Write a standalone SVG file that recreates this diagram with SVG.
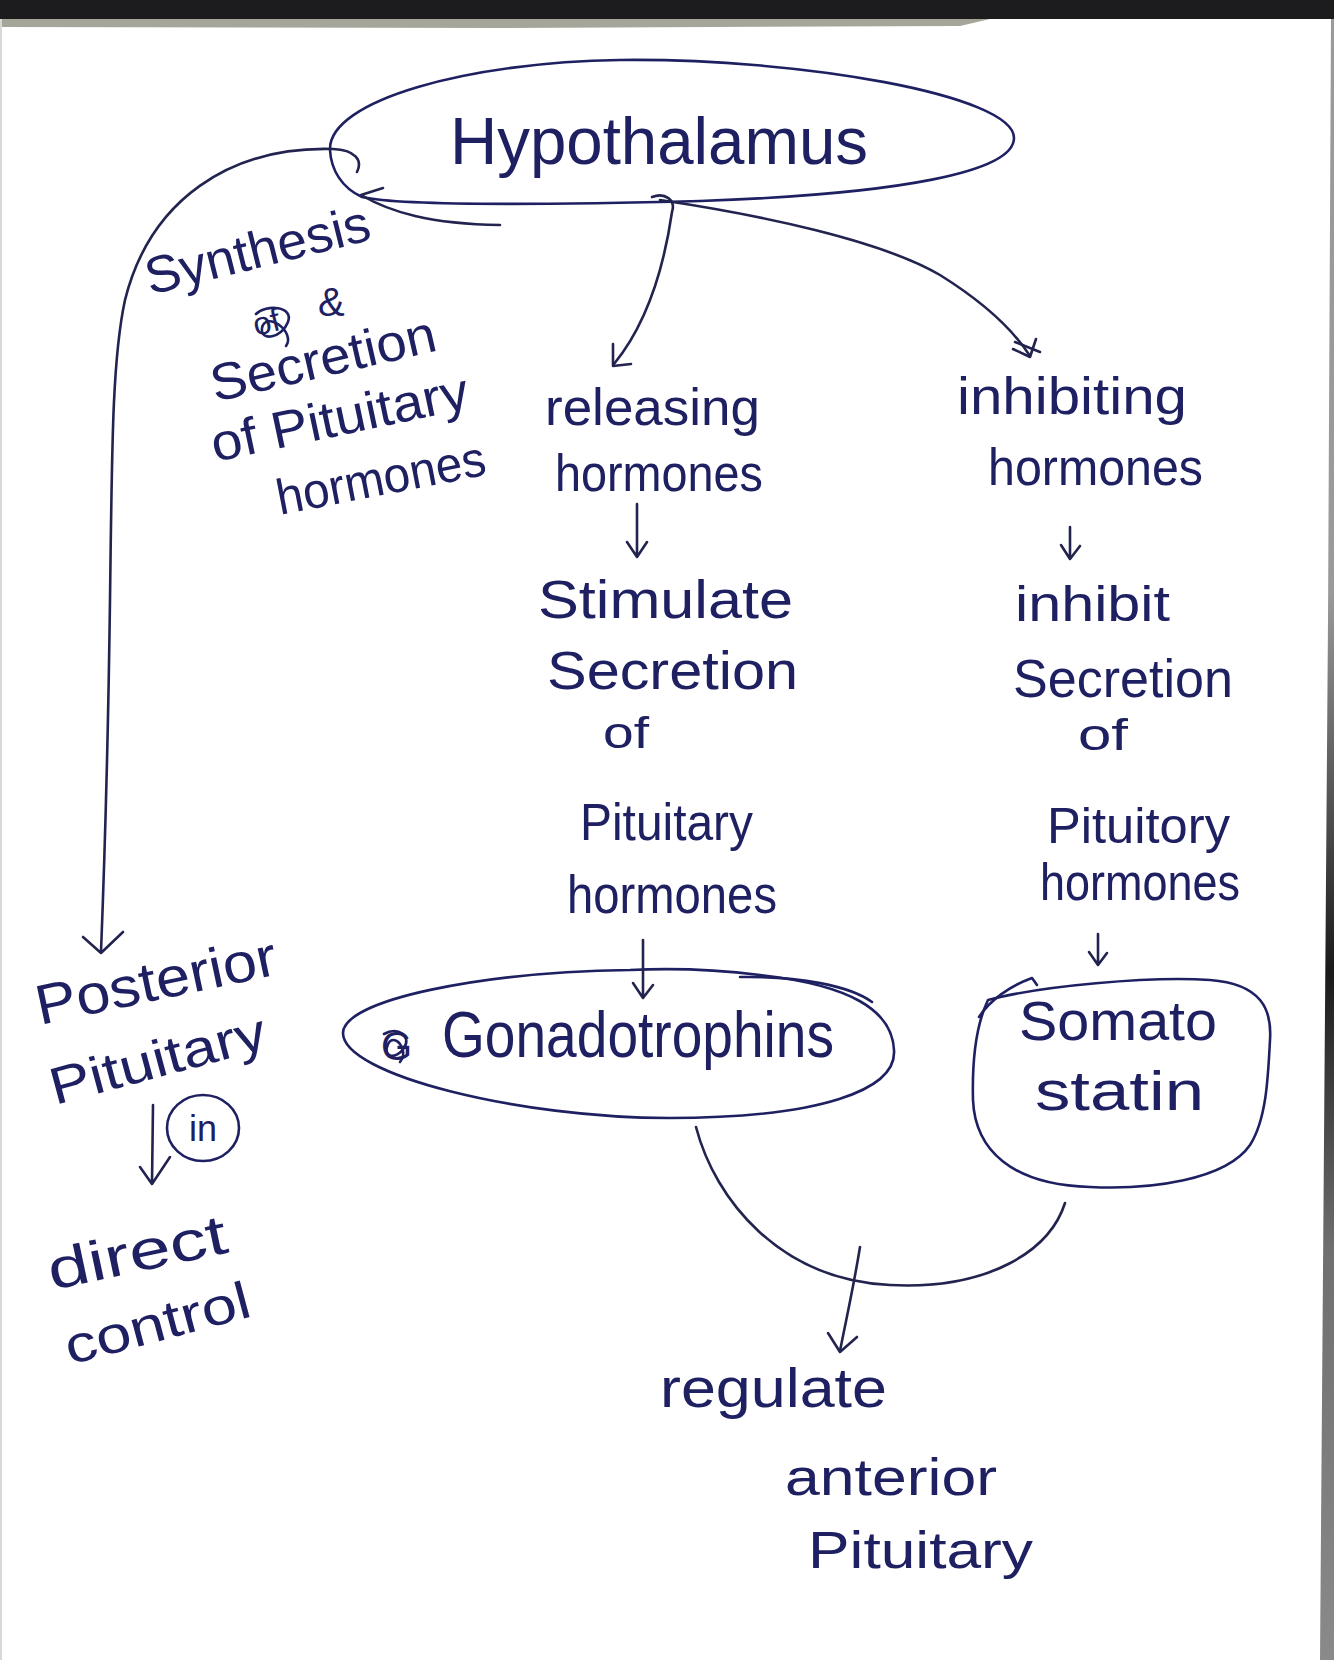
<svg xmlns="http://www.w3.org/2000/svg" width="1334" height="1660" viewBox="0 0 1334 1660">
<defs>
<style>
.t{font-family:"Liberation Sans","DejaVu Sans",sans-serif;fill:#1e2062;}
.ln{fill:none;stroke:#22244f;stroke-width:2.6;stroke-linecap:round;stroke-linejoin:round;}
.ink{fill:none;stroke:#1e2062;stroke-width:2.6;stroke-linecap:round;stroke-linejoin:round;}
</style>
<linearGradient id="edge" x1="0" y1="0" x2="0" y2="1">
<stop offset="0" stop-color="#9a9a9a"/>
<stop offset="0.35" stop-color="#9a9a9a"/>
<stop offset="0.58" stop-color="#1a1a1a"/>
<stop offset="0.75" stop-color="#6f6f6f"/>
<stop offset="1" stop-color="#8a8a8a"/>
</linearGradient>
</defs>
<rect x="0" y="0" width="1334" height="1660" fill="#ffffff"/>
<rect x="0" y="0" width="1334" height="19" fill="#1c1c1e"/>
<path d="M0,19 L990,19 L960,26 L500,28 L0,27 Z" fill="#8e8f7f" opacity="0.8"/>
<path d="M1331,19 L1334,19 L1334,1660 L1320,1660 L1328,620 Z" fill="url(#edge)"/>
<rect x="0" y="19" width="2" height="1641" fill="#d8d8d8"/>

<g id="hypothalamus">
<path class="ink" d="M330,150 C328,100 470,62 620,60 C800,58 1014,95 1014,138 C1014,172 900,194 700,201 C540,205 400,206 362,197 C342,188 331,170 330,150 Z"/>
<text class="t" x="450" y="164" font-size="66" textLength="418" lengthAdjust="spacingAndGlyphs">Hypothalamus</text>
</g>

<g id="synthesis-label">
<text class="t" x="150" y="295" font-size="52" textLength="230" lengthAdjust="spacingAndGlyphs" transform="rotate(-14 150 295)">Synthesis</text>
<text class="t" x="256" y="336" font-size="32" transform="rotate(-14 256 336)">of</text>
<path class="ink" d="M256,314 C266,304 294,306 288,322 C282,338 260,342 262,328 C266,310 296,332 286,346"/>
<text class="t" x="318" y="316" font-size="40">&amp;</text>
<text class="t" x="215" y="402" font-size="52" textLength="230" lengthAdjust="spacingAndGlyphs" transform="rotate(-13 215 402)">Secretion</text>
<text class="t" x="215" y="462" font-size="52" textLength="262" lengthAdjust="spacingAndGlyphs" transform="rotate(-12 215 462)">of Pituitary</text>
<text class="t" x="280" y="515" font-size="50" textLength="212" lengthAdjust="spacingAndGlyphs" transform="rotate(-11 280 515)">hormones</text>
</g>

<g id="releasing">
<text class="t" x="545" y="425" font-size="52" textLength="215" lengthAdjust="spacingAndGlyphs">releasing</text>
<text class="t" x="555" y="491" font-size="52" textLength="208" lengthAdjust="spacingAndGlyphs">hormones</text>
</g>
<g id="stimulate">
<text class="t" x="538" y="618" font-size="54" textLength="255" lengthAdjust="spacingAndGlyphs">Stimulate</text>
<text class="t" x="547" y="689" font-size="54" textLength="251" lengthAdjust="spacingAndGlyphs">Secretion</text>
<text class="t" x="603" y="748" font-size="44" textLength="46" lengthAdjust="spacingAndGlyphs">of</text>
<text class="t" x="580" y="840" font-size="52" textLength="173" lengthAdjust="spacingAndGlyphs">Pituitary</text>
<text class="t" x="567" y="913" font-size="54" textLength="210" lengthAdjust="spacingAndGlyphs">hormones</text>
</g>

<g id="inhibiting">
<text class="t" x="957" y="414" font-size="52" textLength="230" lengthAdjust="spacingAndGlyphs">inhibiting</text>
<text class="t" x="988" y="485" font-size="52" textLength="215" lengthAdjust="spacingAndGlyphs">hormones</text>
</g>
<g id="inhibit">
<text class="t" x="1015" y="621" font-size="50" textLength="155" lengthAdjust="spacingAndGlyphs">inhibit</text>
<text class="t" x="1013" y="697" font-size="54" textLength="220" lengthAdjust="spacingAndGlyphs">Secretion</text>
<text class="t" x="1078" y="750" font-size="44" textLength="50" lengthAdjust="spacingAndGlyphs">of</text>
<text class="t" x="1047" y="843" font-size="50" textLength="183" lengthAdjust="spacingAndGlyphs">Pituitory</text>
<text class="t" x="1040" y="900" font-size="52" textLength="200" lengthAdjust="spacingAndGlyphs">hormones</text>
</g>

<g id="gonadotrophins">
<path class="ink" d="M630,970 C480,972 343,1000 343,1033 C343,1075 520,1118 669,1118 C820,1118 897,1090 894,1050 C892,1010 850,985 760,975 C720,970 670,968 630,970 Z"/>
<path class="ink" d="M740,977 C800,976 850,986 872,1002"/>
<text class="t" x="381" y="1060" font-size="40">G</text>
<path class="ink" d="M384,1034 C398,1026 412,1036 404,1048 C396,1060 382,1058 388,1044 C394,1032 410,1050 400,1062"/>
<text class="t" x="442" y="1057" font-size="64" textLength="392" lengthAdjust="spacingAndGlyphs">Gonadotrophins</text>
</g>

<g id="somatostatin">
<path class="ink" d="M988,1000 C1040,986 1150,976 1210,980 C1262,984 1272,1010 1270,1040 C1268,1080 1266,1120 1250,1145 C1226,1180 1150,1190 1090,1187 C1012,1185 975,1150 973,1100 C972,1060 976,1025 988,1000"/>
<path class="ink" d="M979,1017 C990,1000 1010,986 1032,978 L1037,985"/>
<text class="t" x="1019" y="1040" font-size="56" textLength="198" lengthAdjust="spacingAndGlyphs">Somato</text>
<text class="t" x="1035" y="1110" font-size="56" textLength="169" lengthAdjust="spacingAndGlyphs">statin</text>
</g>

<g id="posterior-pituitary">
<text class="t" x="40" y="1025" font-size="56" textLength="245" lengthAdjust="spacingAndGlyphs" transform="rotate(-12 40 1025)">Posterior</text>
<text class="t" x="55" y="1105" font-size="52" textLength="222" lengthAdjust="spacingAndGlyphs" transform="rotate(-15 55 1105)">Pituitary</text>
</g>
<g id="in-label">
<ellipse class="ink" cx="203" cy="1128" rx="36" ry="33"/>
<text class="t" x="203" y="1141" font-size="36" text-anchor="middle">in</text>
</g>
<g id="direct-control">
<text class="t" x="52" y="1290" font-size="56" textLength="182" lengthAdjust="spacingAndGlyphs" transform="rotate(-12 52 1290)">direct</text>
<text class="t" x="70" y="1365" font-size="52" textLength="190" lengthAdjust="spacingAndGlyphs" transform="rotate(-15 70 1365)">control</text>
</g>

<g id="regulate">
<text class="t" x="660" y="1407" font-size="56" textLength="227" lengthAdjust="spacingAndGlyphs">regulate</text>
<text class="t" x="785" y="1495" font-size="52" textLength="212" lengthAdjust="spacingAndGlyphs">anterior</text>
<text class="t" x="808" y="1568" font-size="52" textLength="225" lengthAdjust="spacingAndGlyphs">Pituitary</text>
</g>

<g id="connectors">
<path class="ln" d="M357,172 C363,160 355,150 333,149 C230,146 150,200 125,300 C112,360 112,450 110,600 C108,750 105,850 101,952"/>
<path class="ln" d="M83,937 L101,953 L123,932"/>
<path class="ln" d="M383,188 L361,195 C390,212 430,224 500,225"/>
<path class="ln" d="M652,197 C665,192 676,200 672,212 C665,260 650,320 614,364"/>
<path class="ln" d="M613,344 L613,366 L631,364"/>
<path class="ln" d="M660,200 C760,215 880,240 940,275 C980,300 1010,325 1030,356"/>
<path class="ln" d="M1013,349 L1030,357 L1036,339"/>
<path class="ln" d="M1015,342 L1040,352"/>
<path class="ln" d="M637,504 L637,556 M627,542 L637,557 L647,542"/>
<path class="ln" d="M1070,527 L1070,558 M1061,545 L1070,559 L1080,546"/>
<path class="ln" d="M643,940 L643,997 M633,983 L643,998 L653,985"/>
<path class="ln" d="M1098,934 L1098,964 M1089,952 L1098,965 L1107,953"/>
<path class="ln" d="M153,1105 L152,1183 M140,1167 L152,1184 L170,1157"/>
<path class="ln" d="M696,1127 C715,1200 780,1280 890,1285 C990,1290 1050,1250 1065,1203"/>
<path class="ln" d="M860,1247 C853,1290 846,1320 840,1351"/>
<path class="ln" d="M828,1333 L840,1352 L857,1337"/>
</g>
</svg>
